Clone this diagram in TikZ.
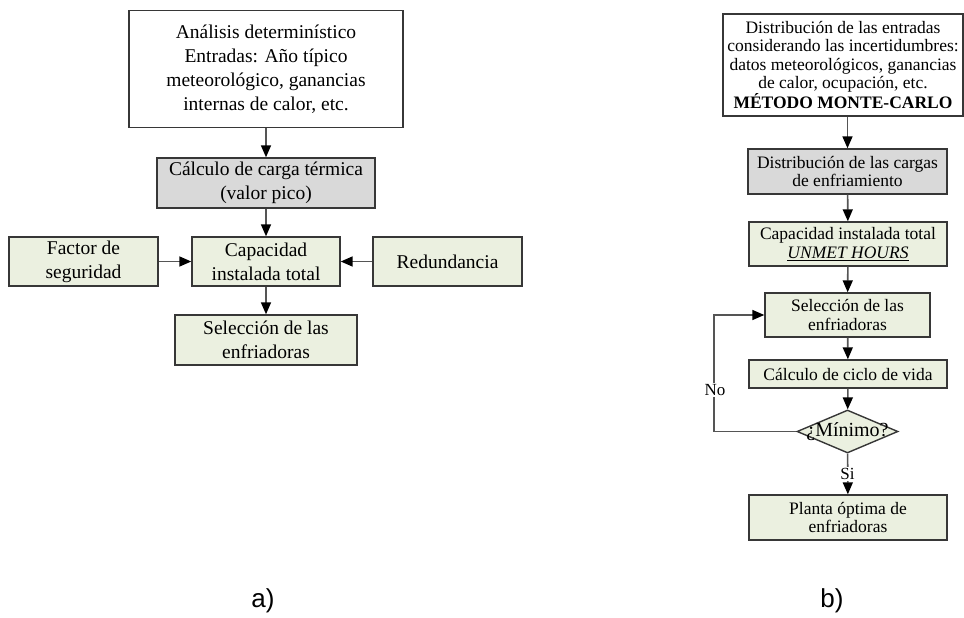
\documentclass[tikz,border=0pt]{standalone}
\usepackage{fontspec}
\setmainfont{Liberation Serif}
\newfontfamily\capfont{Liberation Sans}
\usetikzlibrary{arrows.meta,shapes.geometric}
\definecolor{boxgreen}{RGB}{235,240,224}
\definecolor{boxgray}{RGB}{217,217,217}
\definecolor{edgecol}{RGB}{55,55,55}
\definecolor{linecol}{RGB}{85,85,85}
\begin{document}
\begin{tikzpicture}[x=1pt,y=-1pt,
 box/.style={draw=edgecol, line width=1.4pt, inner sep=0pt, align=center, anchor=center},
 whitebox/.style={box, fill=white},
 graybox/.style={box, fill=boxgray},
 greenbox/.style={box, fill=boxgreen},
 lfont/.style={font=\fontsize{19.5}{24}\selectfont},
 rfont/.style={font=\fontsize{17.5}{18.5}\selectfont},
 arr/.style={draw=linecol, line width=1.6pt, -{Triangle[length=12pt,width=10pt,color=black]}},
 lbl/.style={fill=white, inner sep=1pt, font=\fontsize{17}{20}\selectfont},
 captxt/.style={font=\capfont\fontsize{26}{30}\selectfont, inner sep=0pt}]

\useasboundingbox (0,0) rectangle (964,618);

% ---------- a) ----------
\node[whitebox,lfont,minimum width=274pt,minimum height=117pt] (l1) at (266,69)
  {Análisis determinístico\\Entradas: Año típico\\meteorológico, ganancias\\internas de calor, etc.};
\node[graybox,lfont,minimum width=218pt,minimum height=50pt] (l2) at (266,183)
  {Cálculo de carga térmica\\(valor pico)};
\node[greenbox,lfont,minimum width=149pt,minimum height=49pt] (lf) at (83.5,261.5)
  {Factor de\\seguridad};
\node[greenbox,lfont,minimum width=148pt,minimum height=49pt] (lc) at (266,261.5)
  {Capacidad\\instalada total};
\node[greenbox,lfont,minimum width=149pt,minimum height=49pt] (lr) at (447.5,261.5)
  {Redundancia};
\node[greenbox,lfont,minimum width=182pt,minimum height=50pt] (ls) at (266,340)
  {Selección de las\\enfriadoras};

\draw[arr] (l1) -- (l2);
\draw[arr] (l2) -- (lc);
\draw[arr] (lf) -- (lc);
\draw[arr] (lr) -- (lc);
\draw[arr] (lc) -- (ls);

\node[captxt] (capa) at (263,601) {a)};

% ---------- b) ----------
\node[whitebox,rfont,minimum width=240pt,minimum height=102pt] (r1) at (843,65)
  {Distribución de las entradas\\considerando las incertidumbres:\\datos meteorológicos, ganancias\\de calor, ocupación, etc.\\\textbf{MÉTODO MONTE-CARLO}};
\node[graybox,rfont,minimum width=199pt,minimum height=45pt] (rg) at (847.5,171.5)
  {Distribución de las cargas\\de enfriamiento};
\node[greenbox,rfont,minimum width=198pt,minimum height=44pt] (rc) at (848,244)
  {Capacidad instalada total\\\underline{\textit{UNMET HOURS}}};
\node[greenbox,rfont,minimum width=165pt,minimum height=44pt] (rs) at (847.5,315)
  {Selección de las\\enfriadoras};
\node[greenbox,rfont,minimum width=198pt,minimum height=28pt] (rv) at (848,374)
  {Cálculo de ciclo de vida};
\node[diamond,draw=edgecol,line width=1.4pt,fill=boxgreen,inner sep=0pt,
      minimum width=101pt,minimum height=43pt] (rd) at (847.5,431.5) {};
\node[font=\fontsize{20}{22}\selectfont,inner sep=0pt] (rdt) at (rd) {¿Mínimo?};
\node[greenbox,rfont,minimum width=198pt,minimum height=45pt] (rp) at (848,517.5)
  {Planta óptima de\\enfriadoras};

\draw[arr] (r1.south -| rg.north) -- (rg.north);
\draw[arr] (rg) -- (rc);
\draw[arr] (rc) -- (rs);
\draw[arr] (rs) -- (rv);
\draw[arr] (rv) -- (rd);
\draw[arr] (rd) -- (rp);
\coordinate (lp) at (714,431.5);
\draw[arr] (rd.west) -- (lp) |- (rs.west);
\node[lbl] (no) at (715,390) {No};
\node[lbl] (si) at (847.5,474) {Si};

\node[captxt] (capb) at (832,601) {b)};
\end{tikzpicture}
\end{document}
